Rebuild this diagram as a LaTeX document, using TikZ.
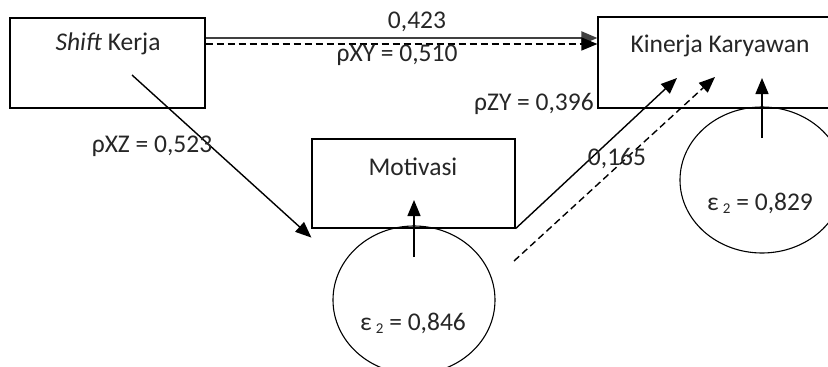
\documentclass[tikz,border=0pt]{standalone}
\usepackage{fontspec}
\setmainfont{Carlito}
\usetikzlibrary{arrows.meta,calc,shapes.geometric}
\begin{document}
\begin{tikzpicture}[x=1pt,y=-1pt,
  box/.style={draw,line width=1.2pt,rectangle,inner sep=0pt},
  err/.style={draw,line width=1.1pt,ellipse,inner sep=0pt},
  txt/.style={inner sep=0pt,text=black!85,font=\fontsize{25.5}{30}\selectfont},
  conn/.style={line width=1.4pt,-{Triangle[length=16pt,width=13pt]}},
  dconn/.style={conn,dash pattern=on 7pt off 4pt},
  thick2/.style={conn,line width=2.2pt,draw=black!75}]
\clip (0,0) rectangle (828,367);
\fill[white] (0,0) rectangle (828,367);
% boxes
\node[box,minimum width=195pt,minimum height=90pt] (X) at (107.5,63) {};
\node[box,minimum width=252pt,minimum height=91pt] (Y) at (724,62.5) {};
\node[box,minimum width=203pt,minimum height=89pt] (Z) at (413.5,183.5) {};
\node[txt] (Xt) at (108,44) {\textit{Shift} Kerja};
\node[txt] (Yt) at (720,46) {Kinerja Karyawan};
\node[txt] (Zt) at (413,167) {Motivasi};
% error ellipses
\node[err,minimum width=162pt,minimum height=148pt] (E1) at (414,300) {};
\node[err,minimum width=164pt,minimum height=146pt] (E2) at (762,180) {};
\node[txt] (E1t) at (413,323) {ε\,\raisebox{-0.25ex}{\fontsize{15}{18}\selectfont 2} = 0,846};
\node[txt] (E2t) at (760,203) {ε\,\raisebox{-0.25ex}{\fontsize{15}{18}\selectfont 2} = 0,829};
% free ends
\coordinate (xs) at (132,75);
\coordinate (ya) at (677,78);
\coordinate (yb) at (715,77);
\coordinate (zd) at (514,261);
\coordinate (e1s) at (414,257);
\coordinate (e1t) at (414,200);
\coordinate (e2s) at (762,138);
\coordinate (e2t) at (762,78);
\coordinate (r1) at (0,38);
\coordinate (r2) at (0,44);
% connectors
\draw[thick2] (X.east |- r1) -- (Y.west |- r1);
\draw[dconn] (X.east |- r2) -- (Y.west |- r2);
\draw[conn] (xs) -- ($(Z.south west)+(0,9)$);
\draw[conn] (Z.south east) -- (ya);
\draw[dconn] (zd) -- (yb);
\draw[conn] (e1s) -- (e1t);
\draw[conn] (e2s) -- (e2t);
% labels
\node[txt] (l1) at (417,22) {0,423};
\node[txt] (l2) at (397,55) {ρXY = 0,510};
\node[txt] (l3) at (534,104) {ρZY = 0,396};
\node[txt] (l4) at (152,146) {ρXZ = 0,523};
\node[txt] (l5) at (617,159) {0,165};
\end{tikzpicture}
\end{document}
